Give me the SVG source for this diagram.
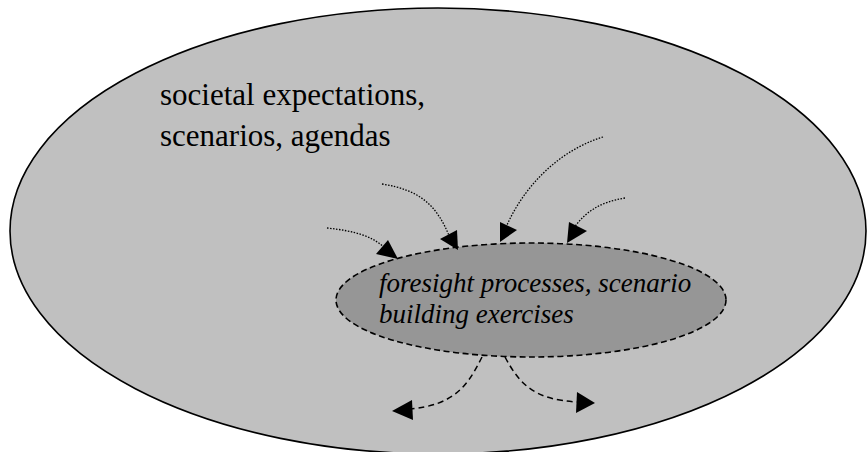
<svg xmlns="http://www.w3.org/2000/svg" width="868" height="452" viewBox="0 0 868 452">
<style>
.outer{fill:#c0c0c0;stroke:#000;stroke-width:1.6}
.inner{fill:#969696;stroke:#000;stroke-width:1.6;stroke-dasharray:6 3.5}
.dot{fill:none;stroke:#000;stroke-width:1.3;stroke-dasharray:1.5 1.5}
.dash{fill:none;stroke:#000;stroke-width:1.5;stroke-dasharray:6 4}
.head{fill:#000;stroke:none}
.t1{font-size:31px;fill:#000}
.t2{font-size:27px;font-style:italic;fill:#000}
</style>
<rect width="868" height="452" fill="#fff"/>
<g id="society">
<ellipse class="outer" cx="438" cy="231" rx="428" ry="223"/>
<text class="t1" font-family="Liberation Serif, Times New Roman, DejaVu Serif, serif" x="160" y="105">societal expectations,</text>
<text class="t1" font-family="Liberation Serif, Times New Roman, DejaVu Serif, serif" x="160" y="146">scenarios, agendas</text>
</g>
<g id="foresight">
<ellipse class="inner" cx="531" cy="300" rx="195" ry="57"/>
<text class="t2" font-family="Liberation Serif, Times New Roman, DejaVu Serif, serif" x="379" y="292">foresight processes, scenario</text>
<text class="t2" font-family="Liberation Serif, Times New Roman, DejaVu Serif, serif" x="379" y="323">building exercises</text>
</g>
<g id="connectors">
<path class="dot" d="M327,228 C355,231 372,236 385,248"/>
<polygon class="head" points="376,254 388,240 398,259"/>
<path class="dot" d="M382,184 C420,190 437,205 450,238"/>
<polygon class="head" points="440,239 457,230 458,250"/>
<path class="dot" d="M603,137 C560,150 525,185 507,225"/>
<polygon class="head" points="500,222 517,230 500,242"/>
<path class="dot" d="M625,198 C600,202 585,212 574,228"/>
<polygon class="head" points="569,222 587,231 567,243"/>
<path class="dash" d="M482,357 C468,385 455,405 410,409"/>
<polygon class="head" points="392,411 412,400 413,420"/>
<path class="dash" d="M505,357 C520,385 535,400 578,402"/>
<polygon class="head" points="577,392 595,403 576,413"/>
</g>
</svg>
